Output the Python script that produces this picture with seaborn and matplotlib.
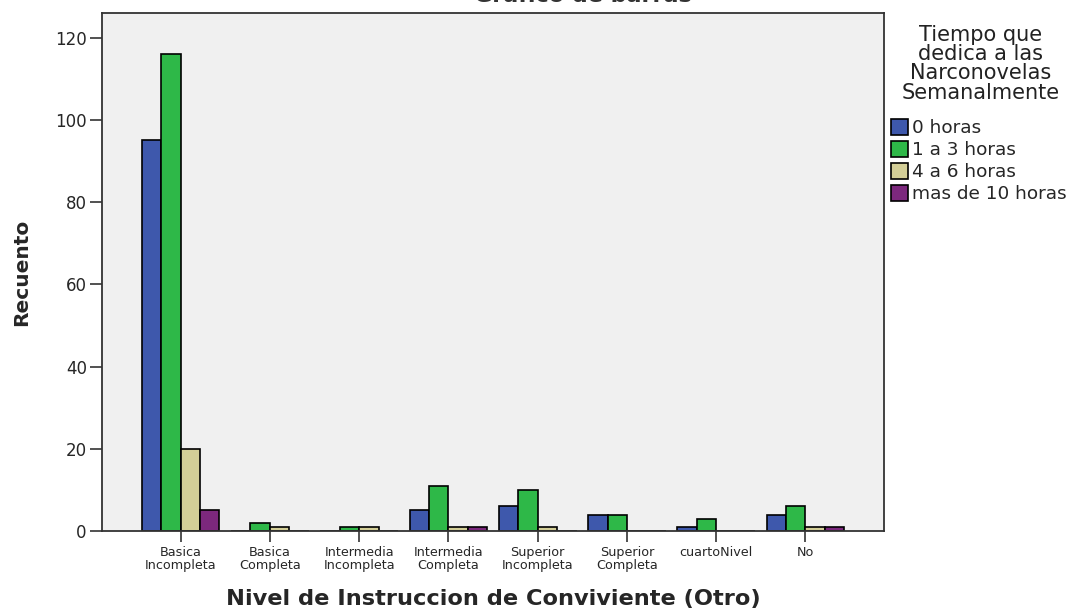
import matplotlib
matplotlib.use("Agg")
import matplotlib.pyplot as plt
import seaborn as sns
import pandas as pd
from matplotlib.patches import Patch

categories = ["Basica\nIncompleta", "Basica\nCompleta", "Intermedia\nIncompleta",
              "Intermedia\nCompleta", "Superior\nIncompleta", "Superior\nCompleta",
              "cuartoNivel", "No"]
series_names = ["0 horas", "1 a 3 horas", "4 a 6 horas", "mas de 10 horas"]
legend_title = "Tiempo que\ndedica a las\nNarconovelas\nSemanalmente"
h0 = [95, 0, 0, 5, 6, 4, 1, 4]
h1_3 = [116, 2, 1, 11, 10, 4, 3, 6]
h4_6 = [20, 1, 1, 1, 1, 0, 0, 1]
h10 = [5, 0, 0, 1, 0, 0, 0, 1]
colors = ["#3E58AC", "#2EB848", "#D3CE97", "#7C287D"]

rows = []
for name, vals in zip(series_names, [h0, h1_3, h4_6, h10]):
    for c, v in zip(categories, vals):
        rows.append({"cat": c, "serie": name, "val": v})
df = pd.DataFrame(rows)

sns.set_theme(style="white")
plt.rcParams["font.family"] = ["DejaVu Sans"]

fig = plt.figure(figsize=(10.73, 6.12), dpi=100)
ax = fig.add_axes([0.0951, 0.1324, 0.7288, 0.8464])
ax.set_facecolor("#F0F0F0")
sns.barplot(data=df, x="cat", y="val", hue="serie", order=categories,
            hue_order=series_names, palette=colors, width=0.87,
            edgecolor="black", linewidth=1.2, saturation=1, ax=ax, legend=False)

ax.set_xlim(-0.88, 7.88)
ax.set_ylim(0, 126)
ax.set_yticks([0, 20, 40, 60, 80, 100, 120])
ax.tick_params(axis="y", labelsize=12, direction="out", length=9, width=1.2, color="#333333", left=True, pad=2)
ax.tick_params(axis="x", labelsize=9.2, direction="out", length=8, width=1.2, color="#333333", bottom=True, pad=3)
for lbl in ax.get_xticklabels():
    lbl.set_linespacing(1.0)
for s in ax.spines.values():
    s.set_color("#333333")
    s.set_linewidth(1.3)
ax.set_xlabel("Nivel de Instruccion de Conviviente (Otro)", fontsize=16.2, fontweight="bold", labelpad=12)
ax.set_ylabel("Recuento", fontsize=14.5, fontweight="bold", labelpad=17)

# legend title drawn as text block, entries below
fig.text(0.914, 1 - 25 / 612, legend_title, ha="center", va="top", fontsize=15,
         linespacing=0.95, multialignment="center", color="#222222")
handles = [Patch(facecolor=c, edgecolor="black", linewidth=1.2, label=n) for c, n in zip(colors, series_names)]
leg = fig.legend(handles=handles, loc="upper left", bbox_to_anchor=(0.830, 1 - 119 / 612),
                 frameon=False, fontsize=13.3, handlelength=0.95, handleheight=0.95,
                 handletextpad=0.2, labelspacing=0.2, borderaxespad=0, borderpad=0)

fig.text(0.543, 0.996, "Gráfico de barras", ha="center", va="baseline", fontsize=16,
         fontweight="bold", color="#333333")

fig.savefig("out.png", dpi=100, facecolor="white")
